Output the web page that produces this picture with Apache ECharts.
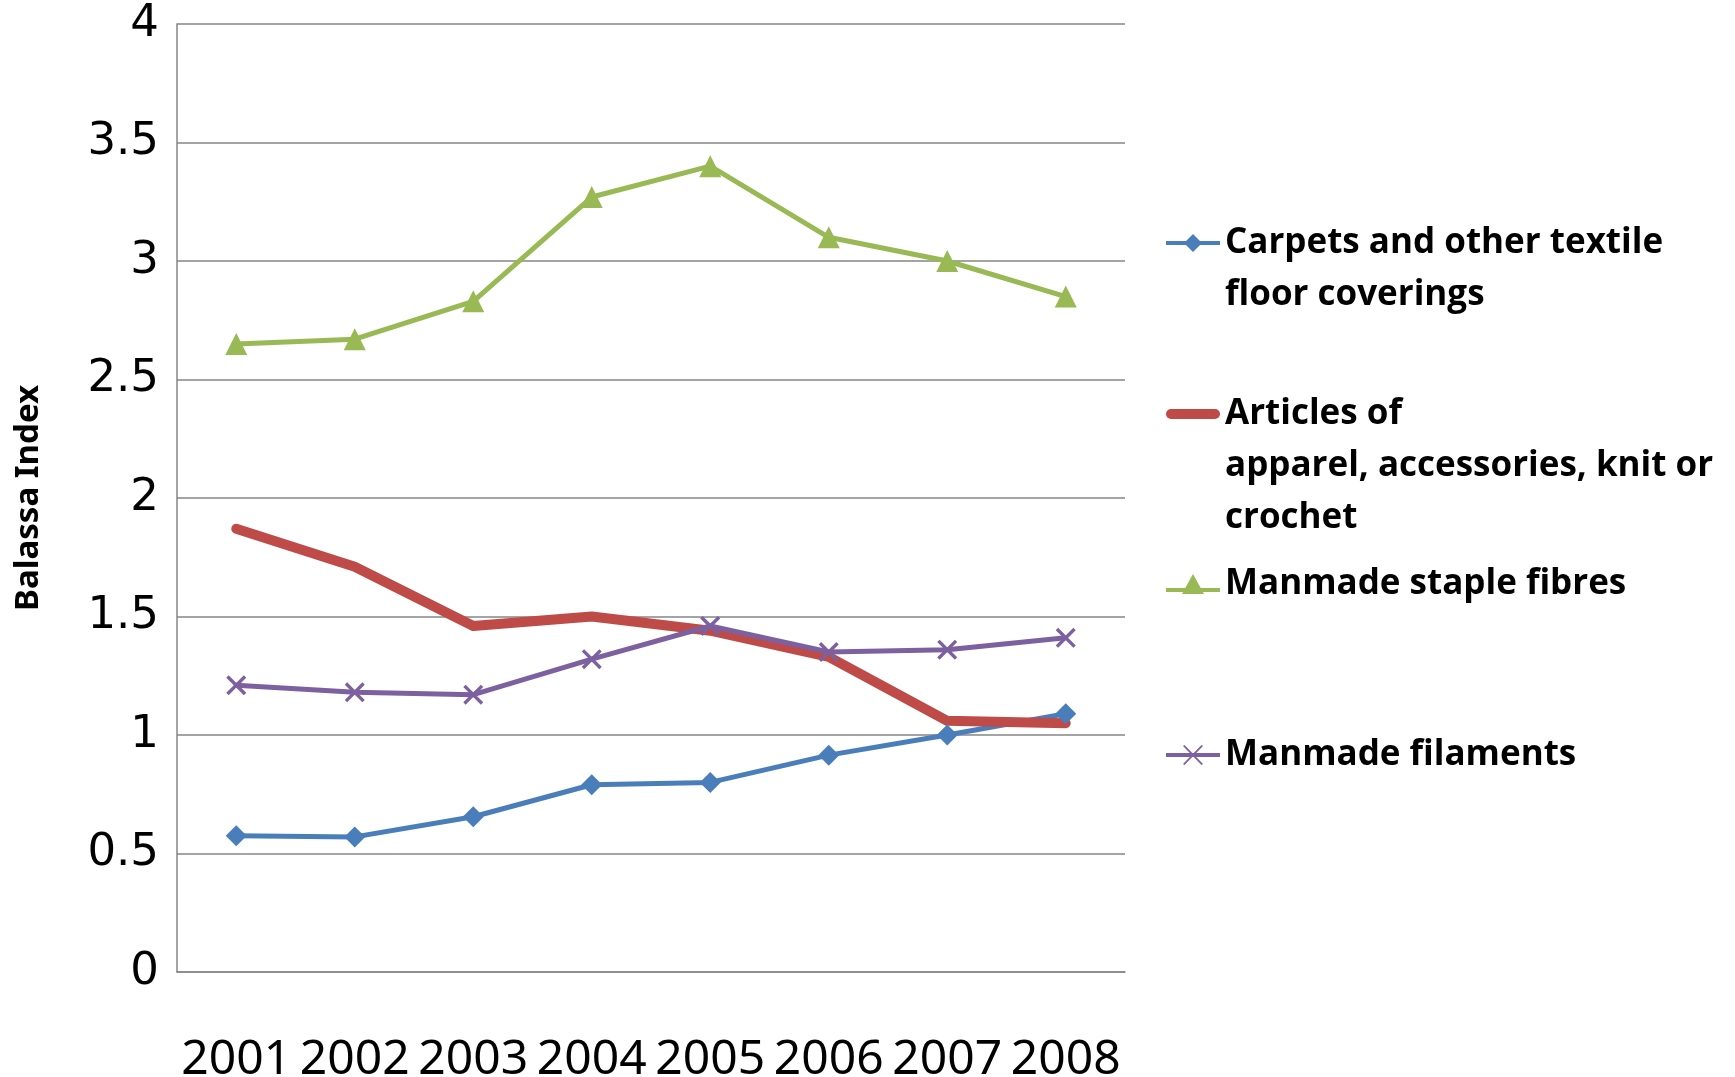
<!DOCTYPE html>
<html>
<head>
<meta charset="utf-8">
<script src="https://cdn.jsdelivr.net/npm/echarts@6/dist/echarts.min.js"></script>
<style>
  html, body { margin: 0; padding: 0; background: #fff; }
  #chart { width: 1735px; height: 1077px; }
</style>
</head>
<body>
<div id="chart"></div>
<script>
// Balassa index (revealed comparative advantage) by product group, 2001-2008
const years = ['2001', '2002', '2003', '2004', '2005', '2006', '2007', '2008'];
const carpets = [0.575, 0.57, 0.655, 0.79, 0.80, 0.915, 1.00, 1.09];
const apparel = [1.87, 1.71, 1.46, 1.50, 1.44, 1.33, 1.06, 1.05];
const stapleFibres = [2.65, 2.67, 2.83, 3.27, 3.40, 3.10, 3.00, 2.85];
const filaments = [1.21, 1.18, 1.17, 1.32, 1.46, 1.35, 1.36, 1.41];
const yTicks = { min: 0, max: 4, interval: 0.5 };

const names = [
  'Carpets and other textile\nfloor coverings',
  'Articles of\napparel, accessories, knit or\ncrochet',
  'Manmade staple fibres',
  'Manmade filaments'
];
const colors = ['#4A7EBB', '#BE4B48', '#98B954', '#7D60A0'];

// marker shapes
const crossPath = 'path://M0,1.2 L1.2,0 L10,8.8 L8.8,10 Z M8.8,0 L10,1.2 L1.2,10 L0,8.8 Z';

// legend icons: a short line with the series marker in the middle (54 x 20 box)
const legendIcons = [
  'path://M0,8 H54 V12 H0 Z M27,1 L36,10 L27,19 L18,10 Z M0,0 L0.01,0 M54,20 L53.99,20',
  'path://M5,0 H49 A5,5 0 0 1 49,10 H5 A5,5 0 0 1 5,0 Z',
  'path://M0,14 H54 V18 H0 Z M27,0 L38,20 L16,20 Z',
  'path://M0,8 H54 V12 H0 Z M17,1 L18.5,0 L37,19 L35.5,20 Z M35.5,0 L37,1 L18.5,20 L17,19 Z'
];
const iconHeights = [20, 10, 20, 20];

const LINE_H = 52;
const legendCenters = [243, 414, 584, 755];
const legendFont = {
  fontFamily: 'Open Sans',
  fontWeight: 'bold',
  fontSize: 35,
  color: '#000',
  lineHeight: LINE_H
};

// one legend per entry; blank lines above the label keep its first line level with the icon
const legends = names.map((name, i) => {
  const n = name.split('\n').length;
  const blockH = (2 * n - 1) * LINE_H;
  return {
    data: [{ name: name, icon: legendIcons[i] }],
    left: 1166,
    top: legendCenters[i] - blockH / 2,
    padding: 0,
    itemWidth: 54,
    itemHeight: iconHeights[i],
    selectedMode: false,
    formatter: function (label) {
      return new Array(n - 1).fill('\u00a0').concat([label]).join('\n');
    },
    textStyle: legendFont
  };
});

const chart = echarts.init(document.getElementById('chart'), null, { renderer: 'canvas' });
chart.setOption({
  backgroundColor: '#fff',
  animation: false,
  color: colors,
  grid: { left: 177, right: 610, top: 24, bottom: 105, containLabel: false, outerBoundsMode: 'none' },
  legend: legends,
  xAxis: {
    type: 'category',
    data: years,
    boundaryGap: true,
    axisLine: { show: true, lineStyle: { color: '#868686', width: 1.5 } },
    axisTick: { show: false },
    axisLabel: {
      margin: 64,
      fontFamily: 'Noto Sans, sans-serif',
      fontSize: 48,
      color: '#000',
      interval: 0
    },
    splitLine: { show: false }
  },
  yAxis: {
    type: 'value',
    min: yTicks.min,
    max: yTicks.max,
    interval: yTicks.interval,
    name: 'Balassa Index',
    nameLocation: 'middle',
    nameGap: 132,
    nameRotate: 90,
    nameTextStyle: {
      fontFamily: 'Noto Sans, sans-serif',
      fontWeight: 'bold',
      fontSize: 33,
      color: '#000'
    },
    axisLine: { show: true, lineStyle: { color: '#868686', width: 1.5 } },
    axisTick: { show: false },
    axisLabel: {
      margin: 18,
      fontFamily: 'DejaVu Sans',
      fontSize: 45,
      color: '#000'
    },
    splitLine: { show: true, lineStyle: { color: '#868686', width: 1.5 } }
  },
  series: [
    {
      name: names[0], type: 'line', data: carpets,
      symbol: 'diamond', symbolSize: 21,
      lineStyle: { width: 5, color: colors[0] },
      itemStyle: { color: colors[0] }
    },
    {
      name: names[1], type: 'line', data: apparel,
      symbol: 'none', showSymbol: false,
      lineStyle: { width: 10, color: colors[1], cap: 'round', join: 'round' },
      itemStyle: { color: colors[1] }
    },
    {
      name: names[2], type: 'line', data: stapleFibres,
      symbol: 'triangle', symbolSize: 22,
      lineStyle: { width: 5, color: colors[2] },
      itemStyle: { color: colors[2] }
    },
    {
      name: names[3], type: 'line', data: filaments,
      symbol: crossPath, symbolSize: 20,
      lineStyle: { width: 5, color: colors[3] },
      itemStyle: { color: colors[3] }
    }
  ]
});
</script>
</body>
</html>
